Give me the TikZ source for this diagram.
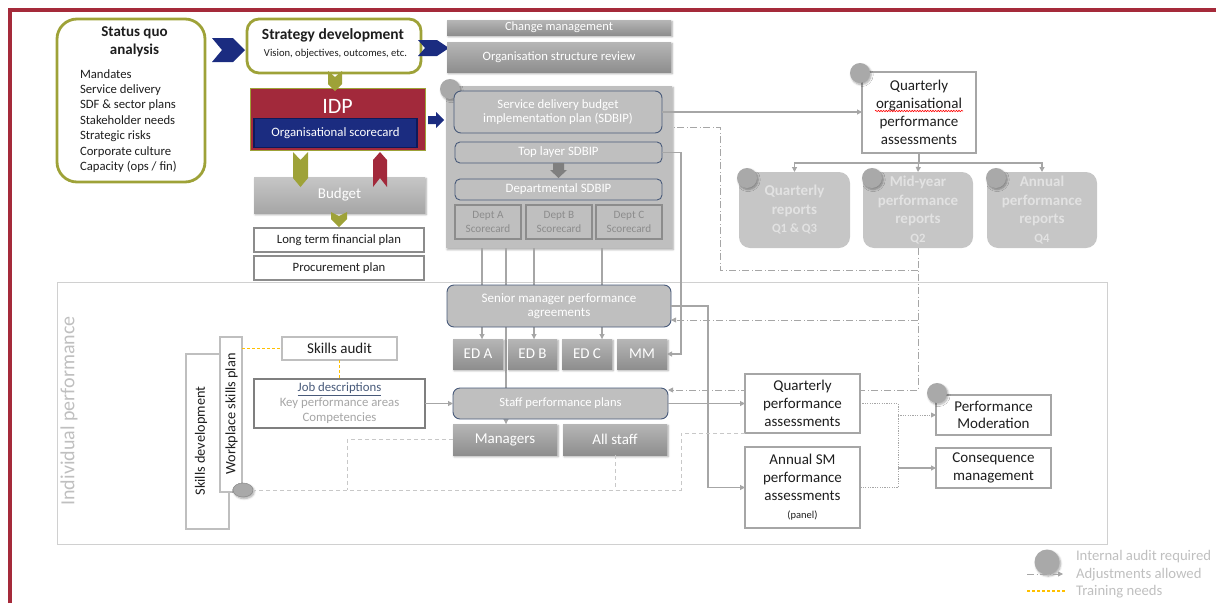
\documentclass[tikz,border=0pt]{standalone}
\usepackage{fontspec}
\setmainfont{Carlito}
\usetikzlibrary{arrows.meta,shadows.blur,decorations.pathmorphing,calc,shapes.geometric}

\definecolor{framec}{HTML}{A52A3A}
\definecolor{olivec}{HTML}{9EA238}
\definecolor{navyc}{HTML}{1B2C80}
\definecolor{navyd}{HTML}{0E1A5A}
\definecolor{idpred}{HTML}{A2293B}
\definecolor{slate}{HTML}{485A7A}
\definecolor{panelg}{HTML}{BFBFBF}
\definecolor{btop}{HTML}{B6B6B6}
\definecolor{bbot}{HTML}{8E8E8E}
\definecolor{budtop}{HTML}{C6C6C6}
\definecolor{budbot}{HTML}{A6A6A6}
\definecolor{conn}{HTML}{A6A6A6}
\definecolor{softg}{HTML}{C8C8C8}
\definecolor{auditg}{HTML}{A9A9A9}
\definecolor{ink}{HTML}{1E1E1E}
\definecolor{trainy}{HTML}{FFC000}
\definecolor{repfill}{HTML}{C6C6C6}
\definecolor{reptext}{HTML}{E2E2E2}
\definecolor{deptline}{HTML}{8C8C8C}
\definecolor{boxline}{HTML}{A6A6A6}
\definecolor{lightline}{HTML}{BFBFBF}
\definecolor{frameline}{HTML}{D0D0D0}
\definecolor{darkarrow}{HTML}{7F7F7F}
\definecolor{jobline}{HTML}{7F7F7F}

\newcommand\fsz[2]{\fontsize{#1}{#2}\selectfont}

\tikzset{
  every node/.style={inner sep=0pt, outer sep=0pt},
  olivebox/.style={draw=olivec, line width=2.8pt, fill=white},
  softshadow/.style={blur shadow={shadow xshift=1.2pt, shadow yshift=-1.6pt,
      shadow blur radius=2pt, shadow blur steps=6, shadow opacity=35}},
  greybar/.style={top color=btop, bottom color=bbot, draw=none, text=white, softshadow},
  slatebox/.style={rounded corners=5pt, draw=slate, line width=0.9pt, fill=panelg, text=white},
  whitebox/.style={draw=boxline, line width=1.8pt, fill=white, text=ink},
  deptbox/.style={draw=deptline, line width=2.2pt, fill=panelg, text=deptline,
      align=center, font=\fsz{11.2}{14}},
  repbox/.style={rounded corners=11pt, fill=repfill, text=reptext, align=center,
      font=\bfseries\fsz{15}{18.5}},
  audit/.style={circle, fill=auditg, minimum size=20pt, softshadow},
  connl/.style={draw=conn, line width=1.1pt},
  arr/.style={-{Triangle[length=5pt,width=5pt]}},
  adjl/.style={draw=conn, line width=0.9pt, dash pattern=on 7pt off 2.5pt on 1pt off 2.5pt},
  ghost/.style={draw=softg, line width=1pt, dash pattern=on 4pt off 3pt},
  dotl/.style={draw=conn, line width=0.9pt, dash pattern=on 1.2pt off 1.2pt},
  train/.style={draw=trainy, line width=1.1pt, dash pattern=on 3pt off 2pt},
}

\begin{document}
\begin{tikzpicture}[x=1pt,y=-1pt]
\useasboundingbox (0,0) rectangle (1216,603);

% outer frame
\draw[framec, line width=3.5pt] (10,603) -- (10,10) -- (1216,10);

% individual performance frame
\node[draw=frameline, line width=0.8pt, minimum width=1050pt, minimum height=262pt] (indiv) at (582,413) {};
\node[rotate=90, font=\fsz{20}{24}, text=lightline] (indivlabel) at (69,411) {Individual performance};

% ---------- strategic planning ----------
\node[olivebox, rounded corners=20pt, minimum width=148pt, minimum height=163pt] (sq) at (131,100.5) {};
\node[font=\bfseries\fsz{15}{18}, text=ink, align=center] (sqtitle) at (134.5,41.7) {Status quo\\analysis};
\node[font=\fsz{12.7}{15.4}, text=ink, align=left, anchor=west] (sqlist) at (80,121)
  {Mandates\\Service delivery\\SDF \& sector plans\\Stakeholder needs\\Strategic risks\\Corporate culture\\Capacity (ops / fin)};

\fill[navyc] (212,38) -- (233,38) -- (245,50) -- (233,62) -- (212,62) -- (222,50) -- cycle;

\node[olivebox, rounded corners=12pt, minimum width=174pt, minimum height=54pt] (strat) at (334,46) {};
\node[font=\bfseries\fsz{15.5}{18}, text=ink] (strattitle) at (333,35) {Strategy development};
\node[font=\fsz{10.6}{13}, text=ink] (stratsub) at (335.5,54) {Vision, objectives, outcomes, etc.};

\fill[navyc] (418,40) -- (437,40) -- (449,48) -- (437,56) -- (418,56) -- (425,48) -- cycle;

\node[greybar, minimum width=224pt, minimum height=15pt, font=\fsz{12.5}{15}] (change) at (559,27.5) {Change management};
\node[greybar, minimum width=224pt, minimum height=30pt, font=\fsz{12.7}{15}] (orgrev) at (559,57) {Organisation structure review};

% IDP
\node[fill=idpred, draw=olivec, line width=0.8pt, minimum width=175pt, minimum height=62pt] (idp) at (337.5,119) {};
\node[text=white, font=\fsz{22}{26}] (idptitle) at (337.5,106) {IDP};
\node[fill=navyc, draw=navyd, line width=1.4pt, minimum width=163pt, minimum height=29pt,
      text=white, font=\fsz{12.8}{15}] (orgsc) at (335.5,133) {Organisational scorecard};
\fill[olivec] (328,71) -- (335,77) -- (342,71) -- (342,84) -- (335,91) -- (328,84) -- cycle;

% budget
\node[top color=budtop, bottom color=budbot, text=white, softshadow, minimum width=171pt,
      minimum height=36pt, font=\fsz{15}{18}] (budget) at (339.5,195) {Budget};
\fill[olivec] (293,152) -- (300.5,160) -- (308,152) -- (308,178) -- (300.5,187) -- (293,178) -- cycle;
\fill[idpred] (373,160) -- (380,152) -- (387,160) -- (387,187) -- (380,178) -- (373,187) -- cycle;
\fill[olivec] (331,212) -- (339,216) -- (347,212) -- (347,219) -- (339,227) -- (331,219) -- cycle;

\node[draw=deptline, line width=2pt, fill=white, text=ink, minimum width=170pt, minimum height=24pt,
      font=\fsz{12.7}{15}] (ltfp) at (339,240) {Long term financial plan};
\node[draw=deptline, line width=2pt, fill=white, text=ink, minimum width=170pt, minimum height=24pt,
      font=\fsz{12.7}{15}] (proc) at (339,268) {Procurement plan};

% arrow IDP -> SDBIP
\fill[navyc] (428,116) -- (436,116) -- (436,112) -- (444,120) -- (436,128) -- (436,124) -- (428,124) -- cycle;

% ---------- SDBIP ----------
\node[fill=panelg, softshadow, minimum width=226pt, minimum height=162pt] (panel) at (559,167) {};
\node[audit] (audsdbip) at (450,89) {};
\node[slatebox, rounded corners=7pt, minimum width=208pt, minimum height=42pt, align=center,
      font=\fsz{12.8}{14}] (sdbip) at (558,112) {Service delivery budget\\implementation plan (SDBIP)};
\node[slatebox, minimum width=207pt, minimum height=21pt, font=\fsz{12.8}{15}] (toplayer) at (558.5,152.5) {Top layer SDBIP};
\fill[darkarrow] (553,163) -- (564,163) -- (564,170) -- (567,170) -- (558.5,178) -- (550,170) -- (553,170) -- cycle;
\node[slatebox, minimum width=207pt, minimum height=21pt, font=\fsz{12.8}{15}] (dept) at (558.5,189.5) {Departmental SDBIP};
\node[deptbox, minimum width=66pt, minimum height=34pt] (depta) at (488,222) {Dept A\\Scorecard};
\node[deptbox, minimum width=66pt, minimum height=34pt] (deptb) at (559,222) {Dept B\\Scorecard};
\node[deptbox, minimum width=66pt, minimum height=34pt] (deptc) at (629,222) {Dept C\\Scorecard};

% scorecards feed the agreements; these run behind the boxes drawn next
\coordinate (inA) at (482,339);
\coordinate (inB) at (534,339);
\coordinate (inC) at (602,339);
\coordinate (inM) at (506,424);
\draw[connl, arr] (panel.south -| inA) -- (inA);
\draw[connl, arr] (panel.south -| inB) -- (inB);
\draw[connl, arr] (panel.south -| inC) -- (inC);
\draw[connl, arr] (panel.south -| inM) -- (inM);

% ---------- organisational reporting ----------
\node[whitebox, minimum width=114pt, minimum height=81pt, align=center, font=\fsz{15}{18}] (qorg) at (919,112.5)
  {Quarterly\\organisational\\performance\\assessments};
\draw[red, line width=0.6pt, decorate, decoration={snake, amplitude=0.7pt, segment length=2.6pt}]
  (875,111) -- (963,111);
\node[audit] (audqorg) at (860,73) {};

\node[repbox, minimum width=111pt, minimum height=76pt] (rep1) at (794.5,210) {Quarterly\\reports\\{\fsz{12.7}{15}Q1 \& Q3}};
\node[repbox, minimum width=110pt, minimum height=76pt] (rep2) at (918,210) {Mid-year\\performance\\reports\\{\fsz{12.7}{15}Q2}};
\node[repbox, minimum width=110pt, minimum height=76pt] (rep3) at (1042,210) {Annual\\performance\\reports\\{\fsz{12.7}{15}Q4}};
\node[audit] (audrep1) at (747,178) {};
\node[audit] (audrep2) at (872,178) {};
\node[audit] (audrep3) at (996,178) {};

% ---------- individual performance ----------
\node[slatebox, rounded corners=7pt, minimum width=224pt, minimum height=42pt, align=center,
      font=\fsz{13}{14}] (senior) at (559,306) {Senior manager performance\\agreements};
\node[greybar, minimum width=50pt, minimum height=30pt, font=\fsz{15}{18}] (eda) at (478,354) {ED A};
\node[greybar, minimum width=49pt, minimum height=30pt, font=\fsz{15}{18}] (edb) at (532.5,354) {ED B};
\node[greybar, minimum width=50pt, minimum height=30pt, font=\fsz{15}{18}] (edc) at (587,354) {ED C};
\node[greybar, minimum width=50pt, minimum height=30pt, font=\fsz{15}{18}] (mm) at (642,354) {MM};

\node[slatebox, rounded corners=7pt, minimum width=215pt, minimum height=31pt, font=\fsz{12.6}{15}] (staff) at (560.5,403.5) {Staff performance plans};
\node[greybar, minimum width=104pt, minimum height=31pt, font=\fsz{15}{18}] (mgr) at (505,439.5) {Managers};
\node[greybar, minimum width=104pt, minimum height=31pt, font=\fsz{15}{18}] (allstaff) at (615,439.5) {All staff};

% mid-year adjustment back to staff plans, running behind the assessment box
\coordinate (staffadj) at ([yshift=-2pt]staff.north east);
\draw[adjl, arr] (rep2.south) |- (staffadj);

\node[draw=jobline, line width=2.2pt, fill=white, minimum width=171pt, minimum height=49pt, align=center,
      font=\fsz{12.8}{15}] (job) at (339.5,403.5)
  {\textcolor{slate}{\underline{Job descriptions}}\\\textcolor{conn}{Key performance areas}\\\textcolor{conn}{Competencies}};
\node[draw=lightline, line width=2pt, fill=white, text=ink, minimum width=115pt, minimum height=23pt,
      font=\fsz{15}{18}] (skaudit) at (339.5,348.5) {Skills audit};

\node[draw=lightline, line width=2pt, fill=white, minimum width=43pt, minimum height=175pt] (skdev) at (207.5,441.5) {};
\node[rotate=90, text=ink, font=\fsz{14.3}{17}] (skdevtext) at (201,441) {Skills development};
\node[draw=lightline, line width=2pt, fill=white, minimum width=22pt, minimum height=155pt] (wsp) at (231,414.5) {};
\node[rotate=90, text=ink, font=\fsz{14.3}{17}] (wsptext) at (231.5,414) {Workplace skills plan};
\node[ellipse, fill=auditg, draw=deptline, line width=0.5pt, minimum width=20pt, minimum height=14pt,
      softshadow] (wspaudit) at (243,490) {};

\node[whitebox, minimum width=115pt, minimum height=59pt, align=center, font=\fsz{15}{18}] (qperf) at (802.5,403.5)
  {Quarterly\\performance\\assessments};
\node[whitebox, minimum width=115pt, minimum height=81pt, align=center, font=\fsz{15}{18}] (annual) at (802.5,487.5)
  {Annual SM\\performance\\assessments\\{\fsz{10.5}{13}(panel)}};
\node[whitebox, minimum width=115pt, minimum height=40pt, align=center, font=\fsz{15}{17.5}] (pmod) at (993.5,415)
  {Performance\\Moderation};
\node[audit] (audpmod) at (937,393) {};
\node[whitebox, minimum width=115pt, minimum height=40pt, align=center, font=\fsz{15}{17.5}] (conseq) at (993.5,468)
  {Consequence\\management};

% ---------- connectors ----------
\coordinate (senadj) at ([yshift=-14pt]senior.east);
\coordinate (sdbadj) at ([yshift=-15pt]sdbip.east -| panel.east);

\draw[connl, arr] (sdbip.east) -- (sdbip.east -| qorg.west);
\draw[connl, arr] (qorg.south) -- (rep2.north);
\draw[connl, arr] (qorg.south) -- ++(0,10) -| (rep1.north);
\draw[connl, arr] (qorg.south) -- ++(0,10) -| (rep3.north);
\draw[connl, arr] (toplayer.east) -- ++(19,0) |- (mm.east);
\draw[connl, arr] (senior.east) -- ++(37,0) |- (annual.west);
\draw[connl, arr] (staff.east) -- (staff.east -| qperf.west);
\draw[connl, arr] (job.east) -- (staff.west);

\draw[adjl, arr] (rep2.south |- senadj) -- (senadj);
\draw[adjl] ([yshift=-22pt]rep2.south) -- ++(-198,0) |- (sdbadj);

\draw[ghost] (qperf.south west) -- ++(-64,0) |- (wspaudit.east);
\draw[ghost] (allstaff.south) -- (allstaff.south |- wspaudit.east);
\draw[ghost] (mgr.west) -- ++(-106,0) -- ++(0,50.5);

\coordinate (split) at ($(qperf.east)+(38,0)$);
\draw[dotl] (qperf.east) -- (split) |- (annual.east);
\draw[dotl, arr] (split |- pmod.west) -- (pmod.west);
\draw[connl, arr] (split |- conseq.west) -- (conseq.west);

\draw[train] (skaudit.west -| wsp.east) -- (skaudit.west);
\draw[train] (skaudit.south) -- (job.north);

% ---------- legend ----------
\node[audit, minimum size=25pt] (legaudit) at (1047,562) {};
\node[anchor=west, text=lightline, font=\fsz{14.7}{17}] (legaudtext) at (1076,557) {Internal audit required};
\coordinate (legadj) at (1027,574);
\draw[adjl, arr] (legadj) -- ++(36,0);
\node[anchor=west, text=lightline, font=\fsz{14.7}{17}] (legadjtext) at (1076,575) {Adjustments allowed};
\coordinate (legtrain) at (1027,591);
\draw[train] (legtrain) -- ++(38,0);
\node[anchor=west, text=lightline, font=\fsz{14.7}{17}] (legtraintext) at (1076,592) {Training needs};
\end{tikzpicture}
\end{document}
